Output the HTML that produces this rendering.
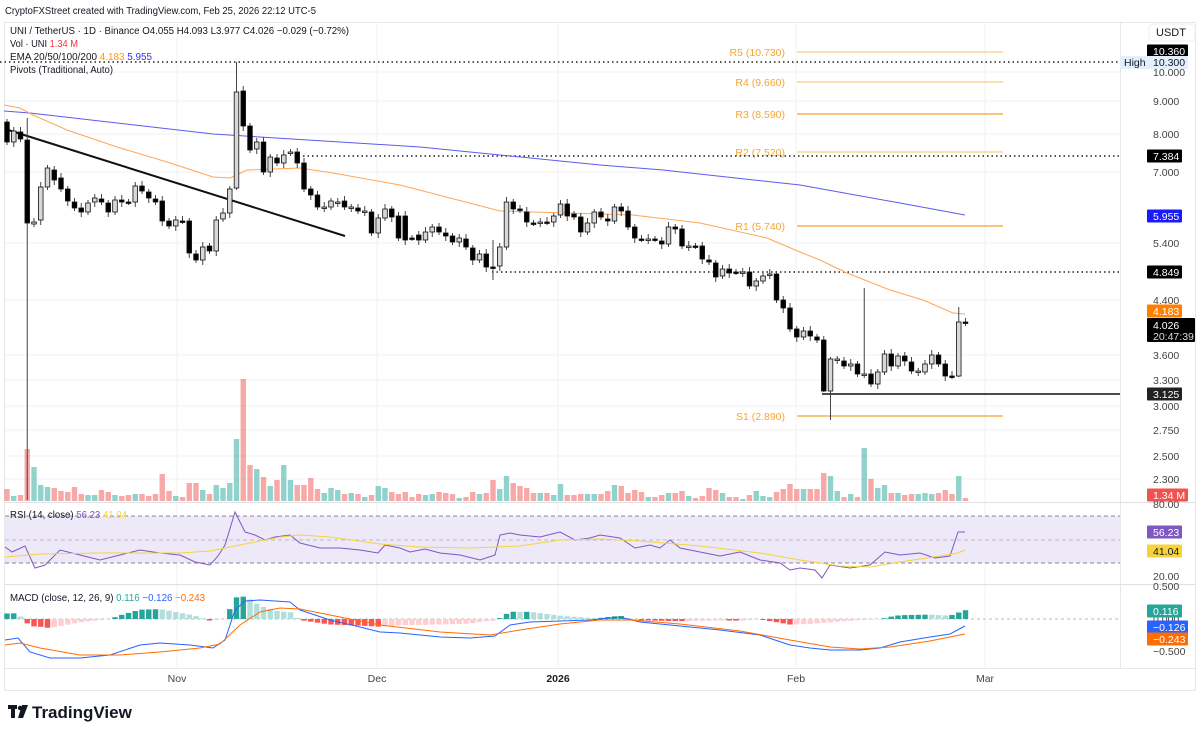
<!DOCTYPE html>
<html><head><meta charset="utf-8"><style>
body{margin:0;background:#fff;width:1203px;height:734px;overflow:hidden;font-family:"Liberation Sans",sans-serif}
svg{position:absolute;left:0;top:0}
</style></head><body>
<svg id="s" width="1203" height="734" xmlns="http://www.w3.org/2000/svg" font-family="Liberation Sans, sans-serif">
<rect x="4.5" y="22.5" width="1191" height="668" fill="#fff" stroke="#e8e8ea"/>
<line x1="1120.5" y1="22" x2="1120.5" y2="668" stroke="#e8e8ea"/>
<line x1="5" y1="668.5" x2="1195" y2="668.5" stroke="#e8e8ea"/>
<g id="grid" stroke="#f2f2f4"></g>
<rect x="5" y="516" width="1115" height="47" fill="#ede9f8"/>
<line x1="5" y1="516" x2="1120" y2="516" stroke="#888" stroke-dasharray="4,3"/>
<line x1="5" y1="540" x2="1120" y2="540" stroke="#bbb" stroke-dasharray="4,3"/>
<line x1="5" y1="563" x2="1120" y2="563" stroke="#888" stroke-dasharray="4,3"/>
<line x1="5" y1="619" x2="1120" y2="619" stroke="#bbb" stroke-dasharray="3,3"/>
<line x1="5" y1="502.5" x2="1195" y2="502.5" stroke="#e0e0e3"/>
<line x1="5" y1="584.5" x2="1195" y2="584.5" stroke="#e0e0e3"/>
<g id="vol"></g><g id="hist"></g>
<g id="pv" stroke="#f7a531" stroke-width="1.3" fill="#f7a531" font-size="10.5">
<line x1="797" y1="52" x2="1003" y2="52" stroke-opacity=".6"/><text x="785" y="56" text-anchor="end" stroke="none">R5 (10.730)</text>
<line x1="797" y1="82" x2="1003" y2="82" stroke-opacity=".6"/><text x="785" y="86" text-anchor="end" stroke="none">R4 (9.660)</text>
<line x1="797" y1="114" x2="1003" y2="114"/><text x="785" y="118" text-anchor="end" stroke="none">R3 (8.590)</text>
<line x1="797" y1="152" x2="1003" y2="152" stroke-opacity=".6"/><text x="785" y="156" text-anchor="end" stroke="none">R2 (7.520)</text>
<line x1="797" y1="226" x2="1003" y2="226"/><text x="785" y="230" text-anchor="end" stroke="none">R1 (5.740)</text>
<line x1="797" y1="416" x2="1003" y2="416"/><text x="785" y="420" text-anchor="end" stroke="none">S1 (2.890)</text>
</g>
<line x1="0" y1="62" x2="1120" y2="62" stroke="#222" stroke-width="1.5" stroke-dasharray="1.5,3"/>
<line x1="303" y1="156" x2="1120" y2="156" stroke="#222" stroke-width="1.5" stroke-dasharray="1.5,3"/>
<line x1="492" y1="272" x2="1120" y2="272" stroke="#222" stroke-width="1.5" stroke-dasharray="1.5,3"/>
<line x1="822" y1="394" x2="1120" y2="394" stroke="#111" stroke-width="1.5"/>
<polyline fill="none" stroke="#5b5bf0" stroke-width="1" points="4,111 30,113 213,134 420,147 500,155 600,165 663,170 800,185 900,203 965,215"/>
<polyline fill="none" stroke="#ffa657" stroke-width="1" points="4,105 20,108 33,115 67,130 117,147 167,162 213,177 230,178 247,170 273,169 300,168 333,173 400,185 500,211 567,213 633,215 700,223 767,238 800,252 820,260 847,273 890,290 923,300 953,313 965,314"/>
<line x1="5" y1="129" x2="345" y2="236" stroke="#111" stroke-width="2"/>
<g id="cnd"></g>
<polyline fill="none" stroke="#7e57c2" stroke-width="1" points="5,547 12,552 25,546 35,568 45,565 60,550 80,555 100,560 120,555 140,550 160,553 180,555 195,562 210,565 218,556 225,545 235,512 245,532 255,535 265,540 275,537 290,535 300,543 320,548 340,548 360,550 378,553 385,545 400,548 410,552 425,549 440,553 460,555 480,560 495,555 500,535 510,533 520,535 540,537 560,532 575,540 590,538 600,535 620,538 635,548 650,545 660,548 670,540 680,548 700,552 720,556 740,552 760,560 780,563 790,570 800,568 815,570 822,578 830,565 850,568 870,565 885,552 900,555 920,553 935,558 950,556 958,532 965,532"/>
<polyline fill="none" stroke="#f5d33d" stroke-width="1" points="5,557 40,554 100,553 180,553 210,551 240,545 280,537 300,535 330,537 380,544 420,547 470,548 520,546 560,540 600,539 640,541 700,546 760,553 800,560 840,566 870,567 900,562 940,556 958,553 965,550"/>
<polyline id="mac" fill="none" stroke="#2962ff" stroke-width="1" points="5,640 18,638 30,652 50,658 80,658 110,655 140,645 160,643 190,645 213,648 225,640 235,610 245,601 260,600 290,602 300,610 330,620 360,627 380,632 400,633 440,637 470,638 495,636 510,625 530,622 560,621 590,620 620,617 640,622 680,626 720,630 760,635 790,645 810,648 830,650 860,650 880,648 900,642 930,637 950,634 965,626"/>
<polyline id="sig" fill="none" stroke="#ff6d00" stroke-width="1" points="5,645 20,643 40,648 80,655 120,655 160,652 200,648 220,644 240,625 260,612 280,608 300,609 340,617 380,625 440,632 490,635 520,630 560,624 600,620 630,620 680,624 740,631 790,640 830,647 860,649 890,647 930,641 965,634"/>
<g font-size="10" fill="#131722">
<text x="5" y="14" font-size="10.5" textLength="311" lengthAdjust="spacingAndGlyphs">CryptoFXStreet created with TradingView.com, Feb 25, 2026 22:12 UTC-5</text>
<text x="10" y="34" textLength="339" lengthAdjust="spacingAndGlyphs">UNI / TetherUS · 1D · Binance  O4.055  H4.093  L3.977  C4.026  −0.029 (−0.72%)</text>
<text x="10" y="47" textLength="68" lengthAdjust="spacingAndGlyphs">Vol · UNI <tspan fill="#f23645">1.34 M</tspan></text>
<text x="10" y="60" textLength="142" lengthAdjust="spacingAndGlyphs">EMA 20/50/100/200 <tspan fill="#ff9800">4.183</tspan> <tspan fill="#2f2fff">5.955</tspan></text>
<text x="10" y="73" textLength="103" lengthAdjust="spacingAndGlyphs">Pivots (Traditional, Auto)</text>
<text x="10" y="518" textLength="117" lengthAdjust="spacingAndGlyphs">RSI (14, close) <tspan fill="#7e57c2">56.23</tspan> <tspan fill="#f5d33d">41.04</tspan></text>
<text x="10" y="601" textLength="195" lengthAdjust="spacingAndGlyphs">MACD (close, 12, 26, 9) <tspan fill="#26a69a">0.116</tspan> <tspan fill="#2962ff">−0.126</tspan> <tspan fill="#ff6d00">−0.243</tspan></text>
</g>
<rect x="1149" y="24" width="46" height="17" rx="4" fill="#fff" stroke="#eee"/>
<text x="1156" y="36" font-size="11" fill="#131722">USDT</text>
<g id="ax" font-size="10.5" fill="#444"></g>
<g font-size="10.5" fill="#444">
<text x="177" y="682" text-anchor="middle">Nov</text><text x="377" y="682" text-anchor="middle">Dec</text>
<text x="558" y="682" text-anchor="middle" font-weight="bold" fill="#222">2026</text>
<text x="796" y="682" text-anchor="middle">Feb</text><text x="985" y="682" text-anchor="middle">Mar</text>
</g>
<g id="tags" font-size="10.5"></g>
<g fill="#131722"><rect x="8" y="705" width="9" height="4"/><rect x="11" y="705" width="4" height="13"/><circle cx="20" cy="708" r="2.2"/><polygon points="22,705 28,705 23,718 18,718"/></g>
<text x="32" y="718" font-size="17" font-weight="bold" fill="#131722">TradingView</text>
</svg>
<script>
(function(){
var NS="http://www.w3.org/2000/svg";
function el(p,t,a,tx){var e=document.createElementNS(NS,t);for(var k in a)e.setAttribute(k,a[k]);if(tx!=null)e.textContent=tx;document.getElementById(p).appendChild(e);return e;}
var OC=[[122,142],[142,131],[132,139],[140,223],[224,222],[220,187],[187,168],[170,180],[178,189],[189,201],[202,208],[208,212],[212,203],[202,198],[199,202],[203,212],[212,200],[200,202],[202,202],[202,186],[186,191],[192,198],[199,202],[201,221],[221,226],[226,220],[221,221],[221,253],[254,260],[260,247],[246,251],[251,220],[219,213],[213,189],[188,92],[91,126],[126,150],[149,142],[142,172],[172,157],[158,163],[163,155],[153,152],[152,163],[163,189],[189,195],[195,207],[207,207],[207,201],[202,202],[201,207],[207,207],[208,211],[211,211],[212,233],[233,218],[218,209],[209,217],[216,238],[216,240],[238,238],[235,240],[240,232],[232,227],[227,232],[233,236],[236,242],[242,238],[239,247],[248,260],[260,254],[254,267],[267,267],[266,247],[247,202],[202,209],[209,210],[212,222],[223,223],[222,222],[222,222],[222,216],[215,204],[204,216],[214,217],[217,232],[232,223],[223,212],[212,217],[219,221],[221,207],[207,211],[211,227],[227,238],[239,239],[239,239],[239,239],[241,244],[244,227],[227,229],[229,246],[246,246],[246,246],[246,259],[260,262],[263,277],[276,269],[269,273],[272,272],[272,272],[272,286],[286,281],[281,276],[274,274],[274,300],[300,308],[308,329],[329,337],[337,331],[331,336],[337,340],[340,391],[391,359],[359,359],[361,366],[366,364],[364,374],[374,374],[374,384],[384,372],[372,354],[354,366],[366,356],[356,361],[362,371],[371,371],[372,364],[364,355],[355,364],[364,376],[376,376],[376,322],[322,323]];
var VH=[12,5,6,52,34,16,14,13,10,9,14,7,6,6,11,9,6,5,6,7,7,5,7,27,10,5,4,18,18,11,7,16,13,18,62,122,36,32,24,15,21,36,21,16,16,23,12,8,13,11,7,8,7,4,6,15,13,9,7,9,4,7,6,7,9,8,7,3,4,9,7,8,21,12,25,18,15,13,8,8,8,6,17,6,6,7,7,7,7,10,16,15,8,11,9,4,4,6,8,8,10,5,3,5,13,11,8,4,4,2,6,10,5,4,9,12,17,12,12,12,12,28,25,10,4,7,4,53,22,13,16,8,8,6,7,7,8,7,8,11,7,25,3];
var sp={3:[118,500],34:[62,190],122:[357,420],127:[288,378],141:[307,377],72:[240,280],121:[336,392]};
function lin(pts,x){pts=pts.trim().split(/\s+/).map(function(p){return p.split(',').map(Number)});for(var i=1;i<pts.length;i++){if(x<=pts[i][0]){var a=pts[i-1],b=pts[i];return a[1]+(b[1]-a[1])*(x-a[0])/(b[0]-a[0]);}}return pts[pts.length-1][1];}
var mp=document.getElementById('mac').getAttribute('points'),sg=document.getElementById('sig').getAttribute('points');
var prevH=0;
for(var i=0;i<OC.length;i++){var x=7+i*6.75,o=OC[i][0],c=OC[i][1],up=c<o||(c==o&&i%2);
 var tp=Math.min(o,c),bt=Math.max(o,c);
 var w=sp[i]||[tp-3-(i%3),bt+3+(i%2)*2];
 el('cnd','line',{x1:x,y1:w[0],x2:x,y2:w[1],stroke:'#444','stroke-width':1});
 el('cnd','rect',{x:x-2.3,y:tp,width:4.6,height:Math.max(bt-tp,1.5),fill:up?'#d8d8dc':'#000',stroke:'#111','stroke-width':0.8});
 el('vol','rect',{x:x-2.7,y:501-VH[i],width:5.4,height:VH[i],fill:up?'rgba(38,166,154,0.5)':'rgba(239,83,80,0.5)'});
 var h=(lin(sg,x)-lin(mp,x))*1.1;var col=h>=0?(h>=prevH?'#26a69a':'#b2dfdb'):(h<=prevH?'#ff5252':'#ffcdd2');prevH=h;
 el('hist','rect',{x:x-2.7,y:h>=0?619-h:619,width:5.4,height:Math.abs(h),fill:col});
}
var T=[["10.000",72],["9.000",101],["8.000",134],["7.000",172],["5.400",243],["4.400",300],["3.600",355],["3.300",380],["3.000",406],["2.750",430],["2.500",456],["2.300",479],["80.00",504],["20.00",576],["0.500",586],["0.000",619],["−0.500",651]];
T.forEach(function(t){el('ax','text',{x:1153,y:t[1]+4},t[0]);if(t[1]<500)el('grid','line',{x1:5,y1:t[1],x2:1120,y2:t[1]});});
[177,377,558,796,985].forEach(function(x){el('grid','line',{x1:x,y1:23,x2:x,y2:668});});
var G=[["10.360",51,"#000","#fff"],["7.384",156,"#000","#fff"],["5.955",216,"#1a1aff","#fff"],["4.849",272,"#000","#fff"],["4.183",311,"#ff7f00","#fff"],["3.125",394,"#222","#fff"],["1.34 M",495,"#ef5350","#fff"],["56.23",532,"#7e57c2","#fff"],["41.04",551,"#f5d33d","#131722"],["0.116",611,"#26a69a","#fff"],["−0.126",627,"#2962ff","#fff"],["−0.243",639,"#ff6d00","#fff"]];
G.forEach(function(g){el('tags','rect',{x:1147,y:g[1]-6.5,width:g[0].length>5?41:35,height:13,fill:g[2],rx:1});el('tags','text',{x:1153,y:g[1]+4,fill:g[3]},g[0]);});
el('tags','rect',{x:1120,y:56,width:68,height:13,fill:'#e3effd'});el('tags','text',{x:1124,y:66,fill:'#131722'},'High');el('tags','text',{x:1153,y:66,fill:'#131722'},'10.300');
el('tags','rect',{x:1147,y:318,width:48,height:24,fill:'#000',rx:1});el('tags','text',{x:1153,y:329,fill:'#fff'},'4.026');el('tags','text',{x:1153,y:340,fill:'#ddd'},'20:47:39');
})();
</script>
</body></html>
